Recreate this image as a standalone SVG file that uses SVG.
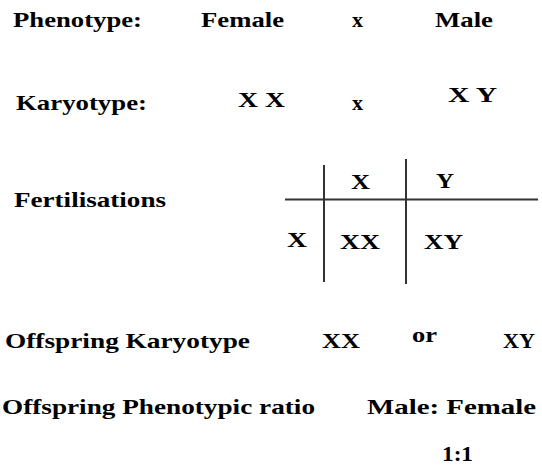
<svg xmlns="http://www.w3.org/2000/svg" width="542" height="465" viewBox="0 0 542 465">
<style>
text{font-family:"Liberation Serif","Times New Roman",serif;font-weight:bold;font-size:22px;fill:#000}
.ln{stroke:#333;stroke-width:2;fill:none}
</style>
<rect width="542" height="465" fill="#fff"/>
<g id="labels">
<text x="13" y="27" textLength="129" lengthAdjust="spacingAndGlyphs">Phenotype:</text>
<text x="16" y="110" textLength="131" lengthAdjust="spacingAndGlyphs">Karyotype:</text>
<text x="14" y="207" textLength="152" lengthAdjust="spacingAndGlyphs">Fertilisations</text>
<text x="5" y="348" textLength="245" lengthAdjust="spacingAndGlyphs">Offspring Karyotype</text>
<text x="2" y="414" textLength="313" lengthAdjust="spacingAndGlyphs">Offspring Phenotypic ratio</text>
</g>
<g id="phenotype">
<text x="201" y="27" textLength="83" lengthAdjust="spacingAndGlyphs">Female</text>
<text x="352" y="27" textLength="11" lengthAdjust="spacingAndGlyphs">x</text>
<text x="435" y="27" textLength="58" lengthAdjust="spacingAndGlyphs">Male</text>
</g>
<g id="karyotype">
<text x="238" y="107" textLength="47" lengthAdjust="spacingAndGlyphs">X X</text>
<text x="352" y="110" textLength="11" lengthAdjust="spacingAndGlyphs">x</text>
<text x="448" y="102" textLength="49" lengthAdjust="spacingAndGlyphs">X Y</text>
</g>
<g id="punnett">
<text x="351" y="189" textLength="19" lengthAdjust="spacingAndGlyphs">X</text>
<text x="436" y="188" textLength="18" lengthAdjust="spacingAndGlyphs">Y</text>
<text x="287" y="247" textLength="20" lengthAdjust="spacingAndGlyphs">X</text>
<text x="340" y="249" textLength="40" lengthAdjust="spacingAndGlyphs">XX</text>
<text x="424" y="249" textLength="39" lengthAdjust="spacingAndGlyphs">XY</text>
</g>
<g id="connectors">
<line class="ln" x1="285" y1="199.5" x2="538" y2="199.5"/>
<line class="ln" x1="324" y1="165" x2="324" y2="282"/>
<line class="ln" x1="406" y1="159" x2="406" y2="284"/>
</g>
<g id="offspring">
<text x="322" y="348" textLength="38" lengthAdjust="spacingAndGlyphs">XX</text>
<text x="412" y="342" textLength="25" lengthAdjust="spacingAndGlyphs">or</text>
<text x="503" y="348" textLength="32" lengthAdjust="spacingAndGlyphs">XY</text>
<text x="367" y="414" textLength="169" lengthAdjust="spacingAndGlyphs">Male: Female</text>
<text x="442" y="461" textLength="31" lengthAdjust="spacingAndGlyphs">1:1</text>
</g>
</svg>
